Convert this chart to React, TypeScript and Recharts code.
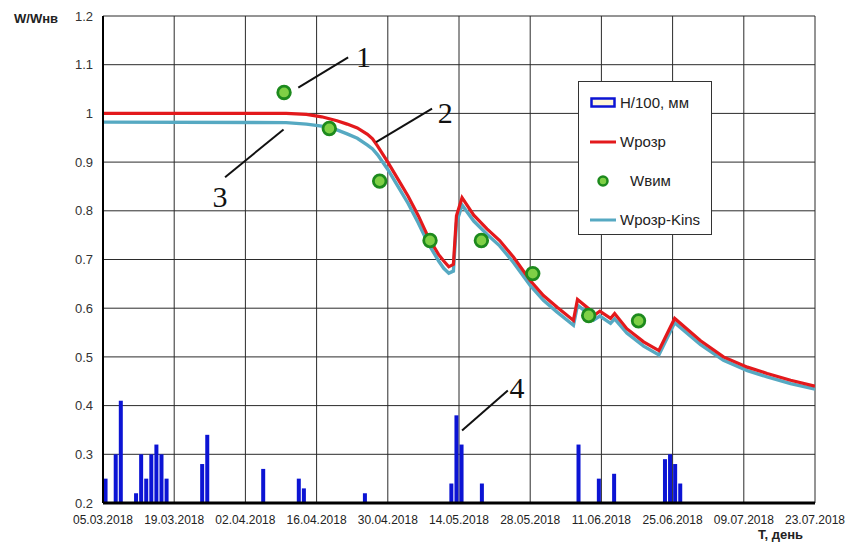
import {
  ComposedChart,
  Bar,
  Line,
  Scatter,
  XAxis,
  YAxis,
  CartesianGrid,
  Legend,
  ReferenceLine,
  ReferenceDot,
  Label,
} from "recharts";

// day 0 = 05.03.2018
const xTicks = [0, 14, 28, 42, 56, 70, 84, 98, 112, 126, 140];
const dateLabels = [
  "05.03.2018",
  "19.03.2018",
  "02.04.2018",
  "16.04.2018",
  "30.04.2018",
  "14.05.2018",
  "28.05.2018",
  "11.06.2018",
  "25.06.2018",
  "09.07.2018",
  "23.07.2018",
];
const yTicks = [0.2, 0.3, 0.4, 0.5, 0.6, 0.7, 0.8, 0.9, 1, 1.1, 1.2];

// H/100, мм (daily precipitation)
const rainDays = [0, 2, 3, 6, 7, 8, 9, 10, 11, 12, 19, 20, 31, 38, 39, 51, 68, 69, 70, 74, 93, 97, 100, 110, 111, 112, 113];
const rainValues = [0.25, 0.3, 0.41, 0.22, 0.3, 0.25, 0.3, 0.32, 0.3, 0.25, 0.28, 0.34, 0.27, 0.25, 0.23, 0.22, 0.24, 0.38, 0.32, 0.24, 0.32, 0.25, 0.26, 0.29, 0.3, 0.28, 0.24];

// Wрозр and Wрозр-Kins
const calcDays = [0, 36, 40, 43, 46, 48, 50, 52, 53, 54, 56, 58, 60, 62, 64, 66, 67, 68, 68.9, 69.5, 70.6, 72.9, 75.5, 78, 80.7, 84, 86.6, 89.3, 92.5, 93.3, 95.5, 96.5, 97.7, 99.8, 100.6, 103, 106.3, 109.3, 112.4, 117.5, 122, 126.7, 130.6, 135.2, 140];
const wCalc = [1.0, 1.0, 0.998, 0.993, 0.985, 0.978, 0.97, 0.957, 0.948, 0.933, 0.9, 0.865, 0.83, 0.79, 0.745, 0.71, 0.697, 0.685, 0.69, 0.79, 0.827, 0.791, 0.763, 0.739, 0.705, 0.657, 0.626, 0.602, 0.575, 0.618, 0.599, 0.585, 0.594, 0.579, 0.589, 0.558, 0.531, 0.513, 0.579, 0.533, 0.5, 0.479, 0.466, 0.452, 0.44];
const wCalcKins = [0.982, 0.981, 0.978, 0.974, 0.966, 0.958, 0.949, 0.935, 0.927, 0.915, 0.885, 0.85, 0.815, 0.775, 0.732, 0.697, 0.682, 0.672, 0.676, 0.775, 0.812, 0.779, 0.752, 0.728, 0.694, 0.647, 0.616, 0.592, 0.565, 0.606, 0.589, 0.576, 0.584, 0.569, 0.578, 0.549, 0.522, 0.504, 0.57, 0.525, 0.493, 0.472, 0.459, 0.445, 0.434];

// Wвим (measured)
const measDays = [35.6, 44.5, 54.4, 64.3, 74.4, 84.5, 95.5, 105.3];
const wMeas = [1.043, 0.969, 0.861, 0.739, 0.739, 0.671, 0.585, 0.574];

// callouts 1..4
const calloutText = ["1", "2", "3", "4"];
const calloutFrom = [[38.4, 1.053], [53.7, 0.941], [35.5, 0.967], [70.6, 0.349]];
const calloutTo = [[48.2, 1.115], [64.7, 1.01], [24.0, 0.869], [79.6, 0.431]];
const calloutAt = [[51.2, 1.117], [67.3, 1.003], [23.0, 0.83], [81.4, 0.438]];

const RED = "#e3191c";
const CYAN = "#56a9c2";
const BLUE = "#0c14d4";

const barRows = rainDays.map((d, i) => ({ day: d + 0.5, h: rainValues[i] }));
const calcRows = calcDays.map((d, i) => ({ day: d, w: wCalc[i], wk: wCalcKins[i] }));
const measRows = measDays.map((d, i) => ({ day: d, w: wMeas[i] }));

const font = "'Liberation Sans', Arial, sans-serif";

function Dot(props: any) {
  const { cx, cy } = props;
  return <circle cx={cx} cy={cy} r={6.3} fill="#7fd046" stroke="#1d8a1d" strokeWidth={2.8} />;
}

// fixed-width bar centred on its date
function RainBar(props: any) {
  const { x, y, width, height } = props;
  if (height == null || height <= 0) return null;
  const cx = x + width / 2;
  return <rect x={cx - 2} y={y} width={4} height={height} fill={BLUE} />;
}

function LegendBox() {
  const row = { display: "flex", alignItems: "center", height: 39 } as const;
  const txt = { fontSize: 15, color: "#222", fontFamily: font, marginLeft: 4 };
  return (
    <div
      style={{
        border: "1px solid #333",
        background: "#fff",
        width: 134,
        height: 154,
        boxSizing: "border-box",
        padding: "1px 0 0 11px",
      }}
    >
      <div style={row}>
        <svg width={26} height={12}>
          <rect x={1.5} y={1.5} width={23} height={8} fill="#fff6d8" stroke={BLUE} strokeWidth={2.5} />
        </svg>
        <span style={txt}>H/100, мм</span>
      </div>
      <div style={row}>
        <svg width={26} height={12}>
          <line x1={0} y1={6} x2={26} y2={6} stroke={RED} strokeWidth={3} />
        </svg>
        <span style={txt}>Wрозр</span>
      </div>
      <div style={row}>
        <svg width={26} height={12}>
          <circle cx={13} cy={6} r={4.5} fill="#7fd046" stroke="#1d8a1d" strokeWidth={2.5} />
        </svg>
        <span style={{ ...txt, marginLeft: 14 }}>Wвим</span>
      </div>
      <div style={row}>
        <svg width={26} height={12}>
          <line x1={0} y1={6} x2={26} y2={6} stroke={CYAN} strokeWidth={3} />
        </svg>
        <span style={txt}>Wрозр-Kins</span>
      </div>
    </div>
  );
}

export default function App() {
  return (
    <div style={{ position: "absolute", left: 0, top: 0, width: 848, height: 544, background: "#fff" }}>
      <ComposedChart
        width={848}
        height={544}
        data={barRows}
        margin={{ top: 16, right: 33, bottom: 11, left: 43 }}
      >
        <CartesianGrid stroke="#2b2b2b" strokeWidth={1} />
        <XAxis
          dataKey="day"
          type="number"
          domain={[0, 140]}
          ticks={xTicks}
          interval={0}
          allowDataOverflow
          height={30}
          tickLine={false}
          tickMargin={6}
          axisLine={{ stroke: "#000", strokeWidth: 3 }}
          tick={{ fontSize: 12, fill: "#222", fontFamily: font }}
          tickFormatter={(v: number) => dateLabels[xTicks.indexOf(v)]}
        >
          <Label
            content={(p: any) => (
              <text
                x={p.viewBox.x + p.viewBox.width - 12}
                y={p.viewBox.y + p.viewBox.height + 6}
                textAnchor="end"
                fontSize={13}
                fontWeight="bold"
                fontFamily={font}
                fill="#222"
              >
                T, день
              </text>
            )}
          />
        </XAxis>
        <YAxis
          type="number"
          domain={[0.2, 1.2]}
          ticks={yTicks}
          interval={0}
          width={60}
          tickLine={false}
          tickMargin={4}
          axisLine={{ stroke: "#000", strokeWidth: 2 }}
          tick={{ fontSize: 13, fill: "#333", fontFamily: font }}
        >
          <Label
            content={(p: any) => (
              <text
                x={p.viewBox.x - 29}
                y={p.viewBox.y + 7}
                fontSize={13}
                fontWeight="bold"
                fontFamily={font}
                fill="#222"
              >
                W/Wнв
              </text>
            )}
          />
        </YAxis>
        <Legend
          layout="vertical"
          align="center"
          verticalAlign="middle"
          content={<LegendBox />}
          wrapperStyle={{ left: 578, top: 81, width: 136, height: 156 }}
        />
        <Bar dataKey="h" name="H/100, мм" fill={BLUE} shape={<RainBar />} isAnimationActive={false} />
        <Line
          data={calcRows}
          dataKey="wk"
          name="Wрозр-Kins"
          type="linear"
          stroke={CYAN}
          strokeWidth={3.4}
          dot={false}
          isAnimationActive={false}
        />
        <Line
          data={calcRows}
          dataKey="w"
          name="Wрозр"
          type="linear"
          stroke={RED}
          strokeWidth={3.2}
          dot={false}
          isAnimationActive={false}
        />
        <Scatter data={measRows} dataKey="w" name="Wвим" shape={<Dot />} isAnimationActive={false} />
        {calloutText.map((t, i) => (
          <ReferenceLine
            key={"l" + t}
            segment={[
              { x: calloutFrom[i][0], y: calloutFrom[i][1] },
              { x: calloutTo[i][0], y: calloutTo[i][1] },
            ]}
            stroke="#111"
            strokeWidth={2}
          />
        ))}
        {calloutText.map((t, i) => (
          <ReferenceDot
            key={"t" + t}
            x={calloutAt[i][0]}
            y={calloutAt[i][1]}
            r={0}
            fill="none"
            stroke="none"
            label={{
              value: t,
              position: "center",
              fontSize: 30,
              fontFamily: "'Liberation Serif', serif",
              fill: "#111",
            }}
          />
        ))}
      </ComposedChart>
    </div>
  );
}
